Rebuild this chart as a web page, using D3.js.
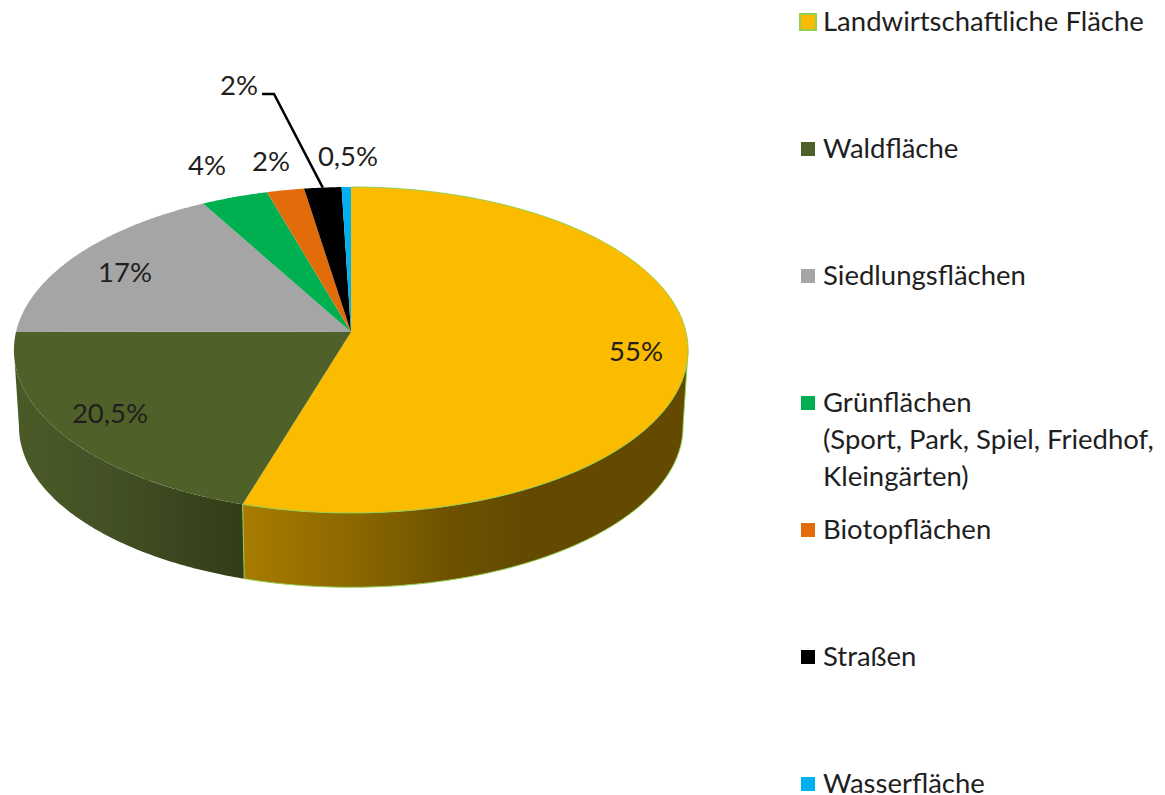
<!DOCTYPE html>
<html>
<head>
<meta charset="utf-8">
<script src="https://cdn.jsdelivr.net/npm/d3@7"></script>
<style>
  html, body { margin: 0; padding: 0; background: #fff; }
  text { font-family: Lato, "Open Sans", sans-serif; fill: #1f1f1f; }
</style>
</head>
<body>
<div id="chart"></div>
<script>
const categories = ["Landwirtschaftliche Fläche", "Waldfläche", "Siedlungsflächen", "Grünflächen", "Biotopflächen", "Straßen", "Wasserfläche"];
const categoryNotes = [[], [], [], ["(Sport, Park, Spiel, Friedhof,", "Kleingärten)"], [], [], []];
// slice sizes as drawn (the printed labels are rounded and add up to 101)
const values = [55, 20.5, 17, 3.6, 2, 2, 0.5];
const valueLabels = ["55%", "20,5%", "17%", "4%", "2%", "2%", "0,5%"];
const colors = ["#fbbc00", "#4f6028", "#a5a5a5", "#00b050", "#e26b0a", "#000000", "#00b0f0"];

// where the value labels sit (centre of text)
const labelPos = [[636, 352], [110, 414], [125, 273], [207, 166], [271, 162], [239, 86], [348, 157]];

const width = 1165;
const height = 795;
const fontSize = 27.5;

// disc seen in perspective: apex, radius, squash, perspective strength
const apexX = 351, apexY = 332, radius = 335, squash = 161, persp = 0.1104;
// bottom disc of the cylinder
const baseDrop = 77, baseScale = 0.985;

function project(angle, r, base) {
    const dx = Math.sin(angle) * r;
    const dy = -Math.cos(angle) * r;
    const s = 1 / (1 - persp * dy);
    const k = base ? baseScale : 1;
    return [apexX + radius * k * dx * s, apexY + (base ? baseDrop : 0) + squash * k * dy * s];
}

const svg = d3.select("#chart").append("svg")
    .attr("width", width)
    .attr("height", height)
    .attr("viewBox", [0, 0, width, height])
    .style("display", "block");

const pieData = d3.pie().sort(null)(values);
const line = d3.line();

function anglesBetween(a, b) {
    const n = Math.max(2, Math.ceil((b - a) / 0.01));
    return d3.range(n + 1).map(i => a + (b - a) * i / n);
}

// side shading runs along screen x
const sideShade = [
    { id: "wallYellow", x1: 243, x2: 520, stops: ["#a87c00", "#8c6800", "#6e5200", "#634a00"], at: [0, 0.39, 0.75, 1] },
    { id: "wallGreen", x1: 20, x2: 242, stops: ["#4a5a26", "#445226", "#333d18"], at: [0, 0.36, 1] }
];

const defs = svg.append("defs");
sideShade.forEach(g => {
    const grad = defs.append("linearGradient")
        .attr("id", g.id)
        .attr("gradientUnits", "userSpaceOnUse")
        .attr("x1", g.x1).attr("x2", g.x2)
        .attr("y1", 0).attr("y2", 0);
    g.stops.forEach((c, i) => grad.append("stop").attr("offset", g.at[i]).attr("stop-color", c));
});

// the wall is visible between the two points where the rim turns away
const turnRight = Math.acos(-persp);
const turnLeft = 2 * Math.PI - turnRight;

function wallPath(a, b) {
    const angles = anglesBetween(a, b);
    return line(angles.map(t => project(t, 1, false)).concat(angles.slice().reverse().map(t => project(t, 1, true)))) + "Z";
}

const yellow = pieData[0];
const forest = pieData[1];
const sides = svg.append("g");
const wallRanges = [[turnRight, yellow.endAngle], [yellow.endAngle, Math.min(turnLeft, forest.endAngle)]];
wallRanges.forEach(([a, b], i) => {
    sides.append("path")
        .attr("d", wallPath(a, b))
        .attr("fill", `url(#${sideShade[i].id})`);
});

// thin light green outline of the yellow wall
const outlineColor = "#92d050";
sides.append("path")
    .attr("d", line([project(turnRight, 1, false)].concat(anglesBetween(turnRight, yellow.endAngle).map(a => project(a, 1, true)), [project(yellow.endAngle, 1, false)])))
    .attr("fill", "none")
    .attr("stroke", outlineColor)
    .attr("stroke-width", 1);

// top faces
svg.append("g").selectAll("path")
    .data(pieData)
    .join("path")
    .attr("d", d => line([project(0, 0, false)].concat(anglesBetween(d.startAngle, d.endAngle).map(a => project(a, 1, false)))) + "Z")
    .attr("fill", (d, i) => colors[i]);

// rim of the yellow slice only
svg.append("path")
    .attr("d", line(anglesBetween(yellow.startAngle, yellow.endAngle).map(a => project(a, 1, false))))
    .attr("fill", "none")
    .attr("stroke", outlineColor)
    .attr("stroke-width", 1);

// leader line for the Straßen label
const streets = pieData[5];
const leaderEnd = project((streets.startAngle + streets.endAngle) / 2, 1, false);
svg.append("path")
    .attr("d", line([[labelPos[5][0] + 23, labelPos[5][1] + 8], [labelPos[5][0] + 35, labelPos[5][1] + 8], leaderEnd]))
    .attr("fill", "none")
    .attr("stroke", "#000")
    .attr("stroke-width", 2.5);

// value labels
svg.append("g").selectAll("text")
    .data(valueLabels)
    .join("text")
    .attr("x", (d, i) => labelPos[i][0])
    .attr("y", (d, i) => labelPos[i][1])
    .attr("dy", "0.33em")
    .attr("text-anchor", "middle")
    .attr("font-size", fontSize)
    .text(d => d);

// legend
const legendY = d3.scalePoint().domain(categories).range([22, 784]);
const legend = svg.append("g").selectAll("g")
    .data(categories)
    .join("g")
    .attr("transform", d => `translate(0,${legendY(d)})`);

legend.append("rect")
    .attr("x", (d, i) => i === 0 ? 800 : 801)
    .attr("y", (d, i) => i === 0 ? -8 : -7)
    .attr("width", (d, i) => i === 0 ? 16 : 14)
    .attr("height", (d, i) => i === 0 ? 16 : 14)
    .attr("fill", (d, i) => colors[i])
    .attr("stroke", (d, i) => i === 0 ? outlineColor : "none")
    .attr("stroke-width", 2);

legend.append("text")
    .attr("x", 823)
    .attr("dy", "0.32em")
    .attr("font-size", fontSize)
    .text(d => d);

legend.each(function(d, i) {
    d3.select(this).selectAll("text.note")
        .data(categoryNotes[i])
        .join("text")
        .attr("class", "note")
        .attr("x", 823)
        .attr("y", (n, j) => 37 * (j + 1))
        .attr("dy", "0.32em")
        .attr("font-size", fontSize)
        .text(n => n);
});
</script>
</body>
</html>
